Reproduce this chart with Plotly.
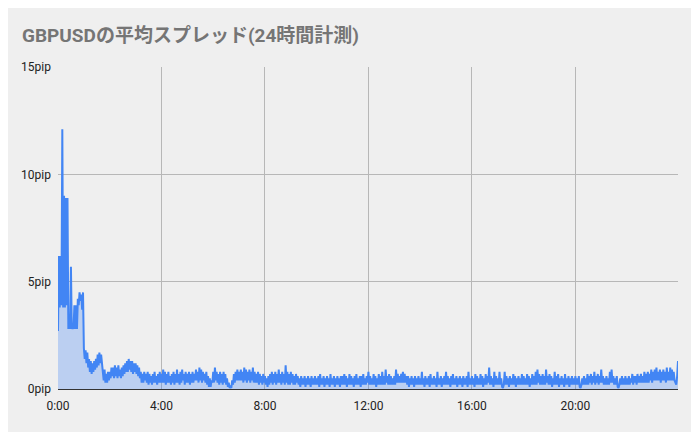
import plotly.graph_objects as go

# average spread (pip), one value every 2 minutes, grouped per hour
h00 = [2.7, 6.2, 3.8, 6.2, 3.9, 12.1, 3.8, 9.0, 3.8, 8.9, 3.9, 8.9, 2.8, 3.0, 2.8,
       5.7, 2.8, 2.9, 2.8, 3.9, 2.8, 3.9, 2.8, 4.2, 3.9, 4.5, 4.1, 4.4, 3.7, 4.5]
h01 = [1.9, 1.4, 1.8, 1.2, 1.7, 1.0, 1.4, 0.8, 1.3, 0.7, 1.2, 0.8, 1.3, 0.9, 1.4,
       1.0, 1.6, 1.1, 1.7, 1.2, 1.6, 1.0, 0.8, 0.4, 0.9, 0.3, 0.7, 0.3, 0.8, 0.4]
h02 = [0.8, 0.5, 1.0, 0.6, 1.0, 0.5, 1.1, 0.6, 1.0, 0.5, 1.1, 0.6, 0.9, 0.5, 1.0,
       0.6, 1.1, 0.7, 1.2, 0.8, 1.3, 0.8, 1.4, 0.9, 1.3, 0.8, 1.3, 0.7, 1.2, 0.8]
h03 = [1.2, 0.7, 1.1, 0.6, 1.0, 0.5, 0.8, 0.3, 0.7, 0.3, 0.8, 0.4, 0.7, 0.3, 0.8,
       0.2, 0.7, 0.3, 0.6, 0.2, 0.7, 0.3, 0.8, 0.3, 0.6, 0.2, 0.7, 0.3, 0.8, 0.3]
h04 = [0.7, 0.3, 0.9, 0.3, 0.8, 0.2, 0.7, 0.3, 0.8, 0.3, 0.6, 0.2, 0.7, 0.3, 0.8,
       0.2, 0.7, 0.3, 0.9, 0.3, 0.7, 0.2, 0.8, 0.3, 0.9, 0.4, 0.7, 0.2, 0.8, 0.3]
h05 = [0.7, 0.3, 0.8, 0.2, 0.7, 0.3, 0.8, 0.3, 0.7, 0.4, 0.9, 0.4, 0.8, 0.3, 1.0,
       0.4, 0.9, 0.3, 0.8, 0.4, 0.7, 0.3, 0.8, 0.2, 0.6, 0.1, 0.5, 0.1, 0.4, 0.3]
h06 = [0.8, 0.3, 1.0, 0.4, 0.8, 0.3, 0.7, 0.2, 0.8, 0.3, 0.7, 0.2, 0.8, 0.3, 0.7,
       0.2, 0.5, 0.1, 0.3, 0.05, 0.1, 0.05, 0.4, 0.2, 0.7, 0.3, 0.8, 0.4, 0.9, 0.4]
h07 = [0.8, 0.4, 0.9, 0.4, 0.8, 0.3, 1.0, 0.4, 0.9, 0.3, 0.8, 0.4, 0.9, 0.3, 0.8,
       0.4, 1.0, 0.3, 0.8, 0.3, 0.7, 0.3, 0.8, 0.2, 0.7, 0.3, 0.6, 0.2, 0.7, 0.3]
h08 = [0.6, 0.2, 0.5, 0.1, 0.6, 0.2, 0.7, 0.3, 0.8, 0.2, 0.7, 0.3, 0.8, 0.2, 0.7,
       0.3, 0.9, 0.3, 0.7, 0.2, 0.8, 0.3, 0.7, 0.2, 1.1, 0.3, 0.8, 0.2, 0.7, 0.2]
h09 = [0.8, 0.3, 0.7, 0.2, 0.6, 0.2, 0.7, 0.3, 0.6, 0.2, 0.5, 0.1, 0.6, 0.2, 0.5,
       0.2, 0.6, 0.1, 0.5, 0.2, 0.6, 0.2, 0.5, 0.1, 0.6, 0.2, 0.5, 0.2, 0.6, 0.2]
h10 = [0.5, 0.2, 0.6, 0.1, 0.7, 0.2, 0.5, 0.2, 0.6, 0.1, 0.5, 0.2, 0.6, 0.2, 0.5,
       0.1, 0.7, 0.2, 0.5, 0.2, 0.6, 0.1, 0.5, 0.2, 0.6, 0.2, 0.5, 0.1, 0.6, 0.2]
h11 = [0.6, 0.2, 0.7, 0.2, 0.6, 0.1, 0.5, 0.2, 0.7, 0.2, 0.6, 0.2, 0.5, 0.1, 0.6,
       0.2, 0.7, 0.2, 0.5, 0.2, 0.6, 0.1, 0.6, 0.2, 0.7, 0.2, 0.5, 0.2, 0.6, 0.3]
h12 = [0.8, 0.2, 0.6, 0.2, 0.5, 0.2, 0.7, 0.2, 0.6, 0.1, 0.5, 0.2, 0.7, 0.2, 0.6,
       0.2, 0.8, 0.2, 0.6, 0.2, 0.9, 0.3, 0.6, 0.2, 0.7, 0.2, 0.6, 0.2, 0.5, 0.2]
h13 = [0.6, 0.2, 0.9, 0.3, 0.7, 0.3, 0.6, 0.3, 0.7, 0.3, 0.8, 0.3, 0.7, 0.3, 0.6,
       0.2, 0.6, 0.1, 0.5, 0.2, 0.6, 0.2, 0.5, 0.1, 0.6, 0.2, 0.5, 0.2, 0.6, 0.2]
h14 = [0.5, 0.2, 0.8, 0.2, 0.5, 0.1, 0.6, 0.2, 0.5, 0.2, 0.6, 0.1, 0.7, 0.2, 0.5,
       0.2, 0.6, 0.2, 0.5, 0.1, 0.8, 0.2, 0.5, 0.2, 0.6, 0.1, 0.5, 0.2, 0.6, 0.2]
h15 = [0.8, 0.2, 0.6, 0.2, 0.5, 0.1, 0.6, 0.2, 0.7, 0.2, 0.5, 0.2, 0.6, 0.1, 0.5,
       0.2, 0.6, 0.2, 0.5, 0.1, 0.6, 0.2, 0.5, 0.2, 0.6, 0.1, 0.8, 0.2, 0.5, 0.2]
h16 = [0.6, 0.2, 0.5, 0.1, 0.7, 0.2, 0.6, 0.2, 0.5, 0.2, 0.7, 0.2, 0.6, 0.1, 0.5,
       0.2, 0.7, 0.2, 0.6, 0.3, 1.0, 0.2, 0.6, 0.2, 0.5, 0.1, 0.8, 0.2, 0.6, 0.2]
h17 = [0.5, 0.2, 0.8, 0.2, 0.5, 0.1, 0.05, 0.2, 0.8, 0.2, 0.6, 0.2, 0.5, 0.1, 0.6,
       0.2, 0.5, 0.2, 0.7, 0.2, 0.6, 0.1, 0.5, 0.2, 0.6, 0.2, 0.5, 0.2, 0.7, 0.2]
h18 = [0.6, 0.2, 0.5, 0.2, 0.7, 0.2, 0.6, 0.1, 0.5, 0.2, 0.7, 0.2, 0.6, 0.2, 0.8,
       0.2, 0.9, 0.3, 0.7, 0.2, 0.6, 0.2, 0.7, 0.2, 0.6, 0.2, 0.9, 0.3, 0.6, 0.2]
h19 = [0.7, 0.2, 0.6, 0.1, 0.5, 0.2, 0.8, 0.2, 0.6, 0.2, 0.7, 0.1, 0.5, 0.2, 0.6,
       0.2, 0.5, 0.1, 0.7, 0.2, 0.5, 0.2, 0.6, 0.1, 0.5, 0.2, 0.6, 0.2, 0.5, 0.2]
h20 = [0.6, 0.2, 0.5, 0.2, 0.6, 0.1, 0.05, 0.2, 0.5, 0.2, 0.6, 0.2, 0.5, 0.2, 0.7,
       0.2, 0.6, 0.3, 0.7, 0.2, 0.6, 0.3, 0.8, 0.2, 0.6, 0.3, 0.7, 0.2, 0.6, 0.3]
h21 = [0.9, 0.3, 0.6, 0.2, 0.5, 0.2, 0.6, 0.2, 0.5, 0.2, 0.8, 0.3, 0.9, 0.3, 0.6,
       0.2, 0.5, 0.2, 0.6, 0.1, 0.05, 0.2, 0.5, 0.2, 0.6, 0.2, 0.5, 0.2, 0.6, 0.2]
h22 = [0.5, 0.2, 0.6, 0.2, 0.5, 0.3, 0.7, 0.2, 0.6, 0.3, 0.6, 0.2, 0.7, 0.3, 0.6,
       0.3, 0.7, 0.3, 0.6, 0.3, 0.8, 0.3, 0.7, 0.3, 0.8, 0.3, 0.7, 0.4, 0.9, 0.3]
h23 = [0.8, 0.4, 0.9, 0.4, 1.0, 0.4, 0.8, 0.4, 0.9, 0.3, 0.8, 0.4, 0.9, 0.4, 0.8,
       0.3, 1.0, 0.4, 0.8, 0.4, 1.0, 0.4, 0.9, 0.4, 0.8, 0.4, 0.3, 0.2, 0.6, 1.3]

hours = [h00, h01, h02, h03, h04, h05, h06, h07, h08, h09, h10, h11,
         h12, h13, h14, h15, h16, h17, h18, h19, h20, h21, h22, h23]
step_minutes = 2
tick_minutes = [0, 240, 480, 720, 960, 1200]
tick_labels = ["0:00", "4:00", "8:00", "12:00", "16:00", "20:00"]
y_ticks = [0, 5, 10, 15]
y_labels = ["0pip", "5pip", "10pip", "15pip"]

spread = [v for h in hours for v in h]
minutes = [i * step_minutes for i in range(len(spread))]

fig = go.Figure()
fig.add_trace(go.Scatter(
    x=minutes, y=spread, mode="lines",
    line=dict(color="#4285f4", width=2),
    fill="tozeroy", fillcolor="rgba(66,133,244,0.3)",
    hoverinfo="skip",
))

# page body has an 8px margin in the browser, so offsets are compensated
fig.update_layout(
    width=699, height=432,
    paper_bgcolor="#efefef", plot_bgcolor="#efefef",
    margin=dict(l=50, r=29, t=59, b=51),
    showlegend=False,
    title=dict(
        text="GBPUSDの平均スプレッド(24時間計測)",
        font=dict(family="Roboto, 'Noto Sans CJK JP', sans-serif", size=19,
                  color="#757575", weight="bold"),
        xref="container", yref="container",
        x=14 / 699, xanchor="left", y=1 - 27 / 432, yanchor="middle",
    ),
    font=dict(family="Roboto, Arial, sans-serif", size=12, color="#222222"),
)
fig.update_xaxes(
    range=[0, minutes[-1]],
    tickvals=tick_minutes, ticktext=tick_labels,
    showgrid=True, gridcolor="#b7b7b7", gridwidth=1,
    showline=True, linecolor="#333333", linewidth=1,
    zeroline=False, ticks="", ticklabelstandoff=6,
)
fig.update_yaxes(
    range=[0, 15], tickvals=y_ticks, ticktext=y_labels,
    showgrid=True, gridcolor="#b7b7b7", gridwidth=1,
    zeroline=False, showline=False, ticks="", ticklabelstandoff=6,
)

fig.write_html("out.html")
